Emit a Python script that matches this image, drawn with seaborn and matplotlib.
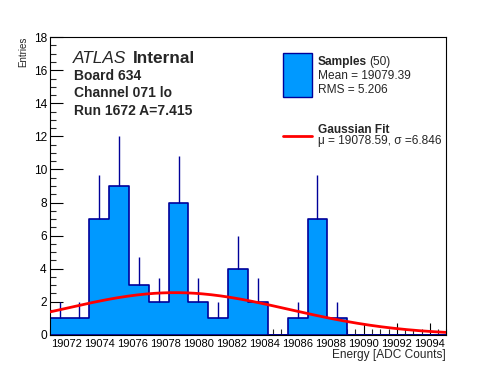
import numpy as np
import pandas as pd
import seaborn as sns
import matplotlib.pyplot as plt
from matplotlib.patches import Rectangle
from matplotlib.lines import Line2D
from matplotlib.ticker import MultipleLocator

# histogram: 20 bins between 19071 and 19095
x_lo = 19071.0
x_hi = 19095.0
n_bins = 20
counts = [1, 1, 7, 9, 3, 2, 8, 2, 1, 4, 2, 0, 1, 7, 1, 0, 0, 0, 0, 0]

# gaussian fit parameters
fit_mu = 19078.59
fit_sigma = 6.846
fit_amp = 2.55

xtick_vals = list(range(19072, 19095, 2))
ytick_vals = list(range(0, 19, 2))

edges = np.linspace(x_lo, x_hi, n_bins + 1)
centers = 0.5 * (edges[:-1] + edges[1:])
counts = np.array(counts, dtype=float)
df = pd.DataFrame({'energy': centers, 'n': counts})

sns.set_style("ticks")
plt.rcParams['font.family'] = ['Liberation Sans', 'DejaVu Sans']

fig = plt.figure(figsize=(4.96, 3.72), dpi=100)
ax = fig.add_axes([0.1, 0.1, 0.8, 0.8])

fill_c = '#0099ff'
edge_c = '#000099'

sns.histplot(data=df, x='energy', weights='n', bins=list(edges), element='step', fill=True,
             color=fill_c, edgecolor=edge_c, alpha=1, linewidth=1.2, ax=ax)

# error bars (upper half visible above fill)
nz = counts > 0
ax.vlines(centers[nz], counts[nz], counts[nz] + np.sqrt(counts[nz]),
          color=edge_c, linewidth=1.0, zorder=3)

xf = np.linspace(x_lo, x_hi, 300)
yf = fit_amp * np.exp(-0.5 * ((xf - fit_mu) / fit_sigma) ** 2)
ax.plot(xf, yf, color='#ff0000', linewidth=2, zorder=4)

ax.set_xlim(x_lo, x_hi)
ax.set_ylim(0, 18)
ax.set_xticks(xtick_vals)
ax.set_xticklabels([str(v) for v in xtick_vals])
ax.set_yticks(ytick_vals)
ax.xaxis.set_minor_locator(MultipleLocator(0.5))
ax.yaxis.set_minor_locator(MultipleLocator(0.5))
ax.tick_params(which='major', direction='in', length=9, width=0.8, labelsize=8.6,
               pad=3, colors='black')
ax.tick_params(axis='x', which='major', labelsize=8.0)
ax.tick_params(which='minor', direction='in', length=4.5, width=0.8)
ax.tick_params(axis='y', which='major', length=9, pad=2)
for s in ax.spines.values():
    s.set_linewidth(0.8)
    s.set_color('black')
ax.set_xlabel('')
ax.set_ylabel('')

def px(x, y):
    return x / 496, 1 - y / 372

fig.text(*px(446, 358), 'Energy [ADC Counts]', ha='right', va='baseline', fontsize=8.6)
fig.text(*px(23, 37), 'Entries', ha='center', va='top', rotation=90, fontsize=7)

fig.text(*px(72.5, 62.7), 'ATLAS', style='italic', fontsize=12.4, va='baseline')
fig.text(*px(132.7, 62.7), 'Internal', weight='bold', fontsize=12.4, va='baseline')
fig.text(*px(74.3, 80), 'Board 634', weight='bold', fontsize=10, va='baseline')
fig.text(*px(74.3, 97.3), 'Channel 071 lo', weight='bold', fontsize=10, va='baseline')
fig.text(*px(74.3, 114.7), 'Run 1672 A=7.415', weight='bold', fontsize=10, va='baseline')

# legend
fig.patches.append(Rectangle(px(283, 97), 29 / 496, 44 / 372, transform=fig.transFigure,
                             facecolor=fill_c, edgecolor=edge_c, linewidth=1))
fig.lines.append(Line2D([283 / 496, 312 / 496], [1 - 136 / 372] * 2, transform=fig.transFigure,
                        color='#ff0000', linewidth=2))
fig.text(*px(317.7, 65), 'Samples', weight='bold', fontsize=8.6, va='baseline')
fig.text(*px(369, 65), '(50)', fontsize=8.6, va='baseline')
fig.text(*px(317.7, 79.3), 'Mean = 19079.39', fontsize=8.6, va='baseline')
fig.text(*px(317.7, 93.3), 'RMS = 5.206', fontsize=8.6, va='baseline')
fig.text(*px(317.7, 132.7), 'Gaussian Fit', weight='bold', fontsize=8.6, va='baseline')
fig.text(*px(317.7, 144.3), 'μ = 19078.59, σ =6.846', fontsize=8.6, va='baseline')

fig.savefig('out.png', dpi=100)
